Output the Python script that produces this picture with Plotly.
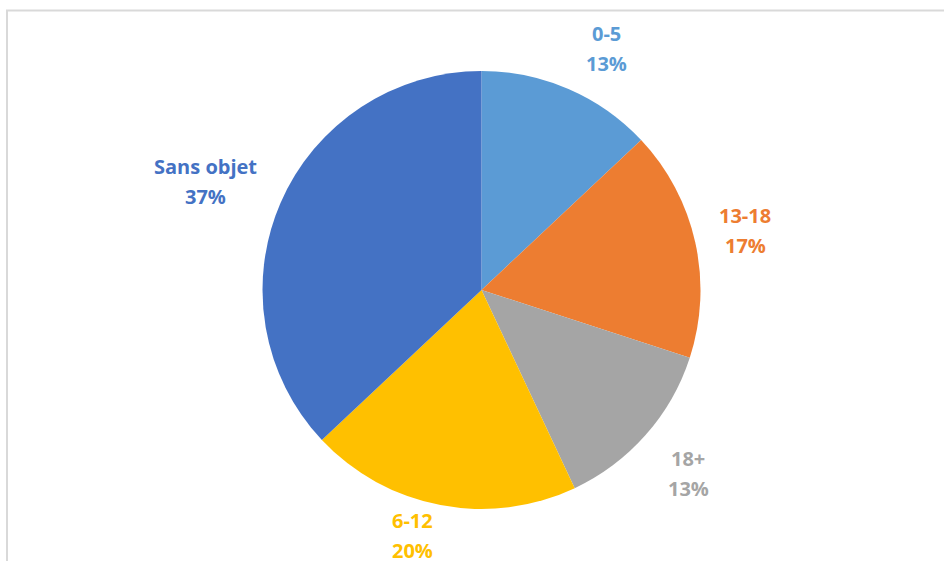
import plotly.graph_objects as go

W, H = 944, 561

categories = ["0-5", "13-18", "18+", "6-12", "Sans objet"]
values = [13, 17, 13, 20, 37]
colors = ["#5B9BD5", "#ED7D31", "#A5A5A5", "#FFC000", "#4472C4"]
pct_labels = ["13%", "17%", "13%", "20%", "37%"]

# label anchor positions (pixels: center x, first-line center y)
label_pos = [(606, 33), (745, 215), (688, 458), (412, 520), (205, 166)]

cx, cy, r = 481.5, 290, 219

fig = go.Figure(go.Pie(
    labels=categories,
    values=values,
    sort=False,
    direction="clockwise",
    rotation=0,
    marker=dict(colors=colors, line=dict(width=0)),
    textinfo="none",
    hoverinfo="label+percent",
    showlegend=False,
    domain=dict(x=[(cx - r) / W, (cx + r) / W], y=[1 - (cy + r) / H, 1 - (cy - r) / H]),
))

annotations = []
for cat, pct, col, (px, py) in zip(categories, pct_labels, colors, label_pos):
    for i, t in enumerate([cat, pct]):
        annotations.append(dict(
            x=px / W, y=1 - (py + i * 30) / H, xref="paper", yref="paper",
            text=f"<b>{t}</b>", showarrow=False, xanchor="center", yanchor="middle",
            borderpad=0,
            font=dict(family="Open Sans, Segoe UI, sans-serif", size=20, color=col),
        ))

fig.update_layout(
    width=W, height=H,
    margin=dict(l=0, r=0, t=0, b=0),
    paper_bgcolor="white",
    plot_bgcolor="white",
    annotations=annotations,
    shapes=[dict(type="rect", xref="paper", yref="paper",
                 x0=7 / W, x1=1.02, y0=-0.02, y1=1 - 10.5 / H,
                 line=dict(color="#D9D9D9", width=2), fillcolor="rgba(0,0,0,0)", layer="below")],
)

fig.write_html("out.html", config={"displayModeBar": False},
               post_script="document.body.style.margin='0px';document.body.style.overflow='hidden';")
